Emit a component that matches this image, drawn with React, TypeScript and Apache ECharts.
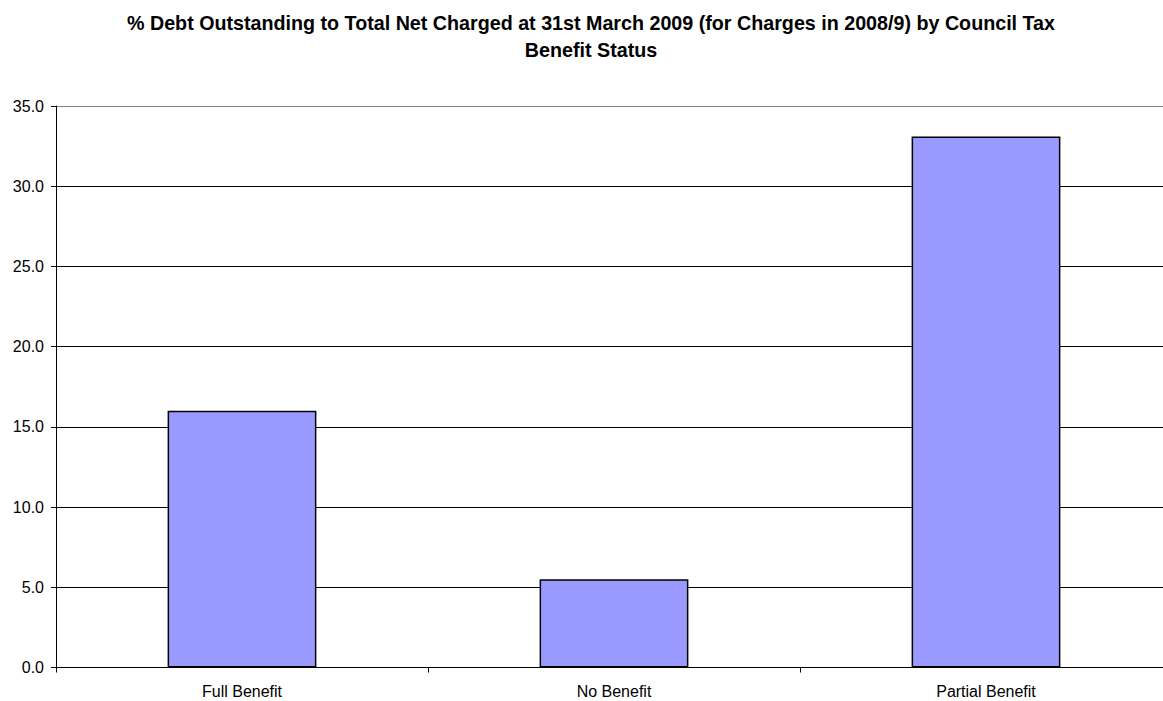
import React, { useEffect, useRef } from "react";
import * as echarts from "echarts";

const titleText =
  "% Debt Outstanding to Total Net Charged at 31st March 2009 (for Charges in 2008/9) by Council Tax\nBenefit Status";
const categories = ["Full Benefit", "No Benefit", "Partial Benefit"];
const values = [16.0, 5.5, 33.1];
const yMin = 0;
const yMax = 35;
const yInterval = 5;

export default function App() {
  const ref = useRef<HTMLDivElement>(null);
  useEffect(() => {
    if (!ref.current) return;
    const chart = echarts.init(ref.current, undefined, { renderer: "svg" });
    const font = "Arial, 'Liberation Sans', sans-serif";
    const splitColors = ["#000", "#000", "#000", "#000", "#000", "#000", "#000", "#808080"];
    chart.setOption({
      animation: false,
      backgroundColor: "#fff",
      title: {
        text: titleText,
        left: 586,
        top: 5,
        textAlign: "center",
        textStyle: {
          fontFamily: font,
          fontSize: 19.7,
          fontWeight: "bold",
          color: "#000",
          lineHeight: 26.5,
        },
      },
      grid: { left: 56, top: 106, right: 8, bottom: 33.5 },
      xAxis: {
        type: "category",
        data: categories,
        axisLine: { lineStyle: { color: "#000", width: 1 } },
        axisTick: { show: true, length: 5, alignWithLabel: false, lineStyle: { color: "#000" } },
        axisLabel: { fontFamily: font, fontSize: 16, color: "#000", margin: 16 },
      },
      yAxis: {
        type: "value",
        min: yMin,
        max: yMax,
        interval: yInterval,
        axisLine: { show: true, lineStyle: { color: "#000", width: 1 } },
        axisTick: { show: true, length: 5, lineStyle: { color: "#000" } },
        axisLabel: {
          fontFamily: font,
          fontSize: 16,
          color: "#000",
          margin: 12,
          formatter: (v: number) => v.toFixed(1),
        },
        splitLine: { show: true, lineStyle: { color: splitColors, width: 1 } },
      },
      series: [
        {
          type: "bar",
          data: values,
          barCategoryGap: "60%",
          itemStyle: { color: "#9999FF", borderColor: "#000", borderWidth: 1.5 },
        },
      ],
    });
    return () => chart.dispose();
  }, []);
  return (
    <div style={{ position: "absolute", left: 0, top: 0, width: 1163, height: 701, overflow: "hidden", background: "#fff" }}>
      <div ref={ref} style={{ width: 1180, height: 701 }} />
    </div>
  );
}
